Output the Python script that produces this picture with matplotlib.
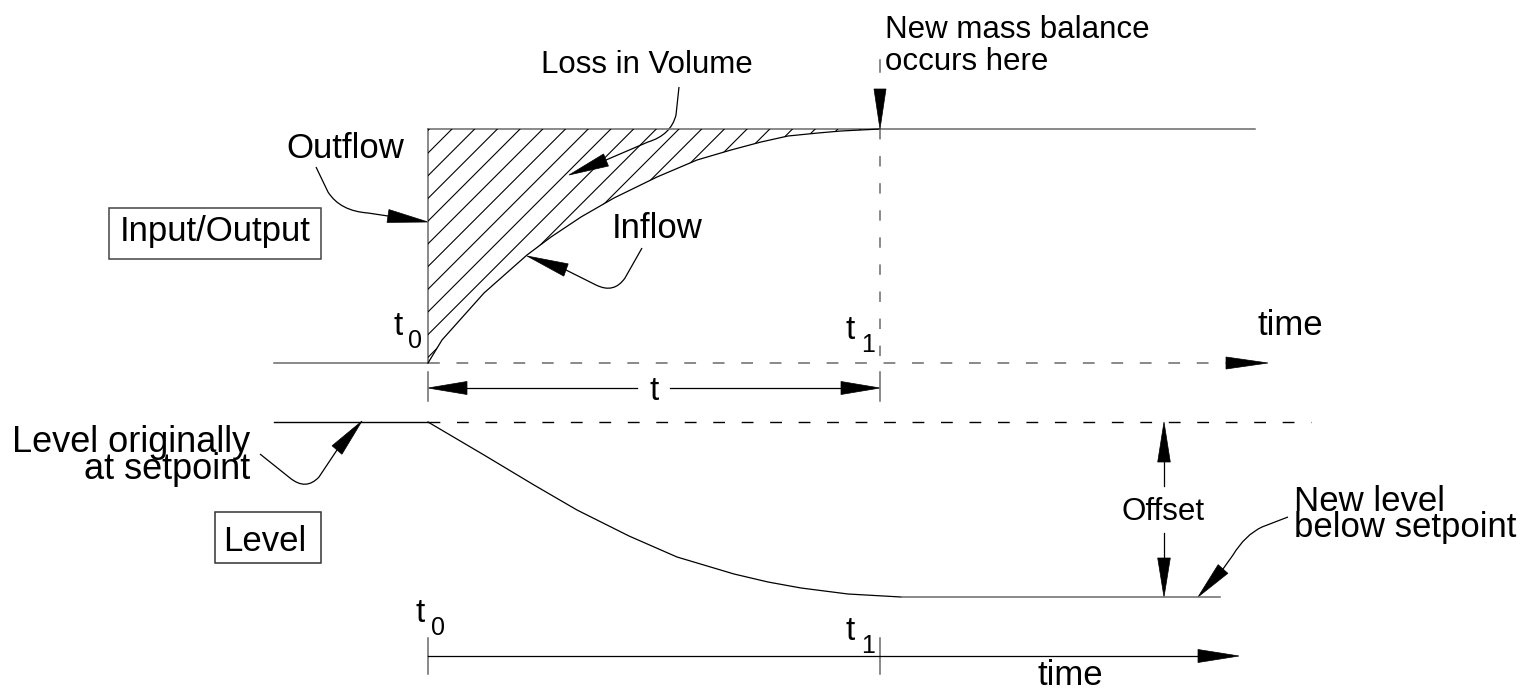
import numpy as np
import matplotlib
matplotlib.use('Agg')
import matplotlib.pyplot as plt
from matplotlib.patches import Polygon, Rectangle, PathPatch
from matplotlib.path import Path

plt.rcParams['font.family'] = ['Liberation Sans', 'DejaVu Sans']
plt.rcParams['lines.scale_dashes'] = False

# Diagram coordinates are in picture units (x right, y down).
# Inflow response after the step at t0 (rises to meet outflow at t1)
inflow_t = [428, 442, 484, 527, 551, 581, 614, 657, 697, 731, 761, 788, 818, 841, 880]
inflow_q = [363, 340, 293, 255, 237, 217, 198, 177, 160, 150, 142, 136, 133, 131, 129]

# Level response (falls from setpoint to a new, lower level)
level_t = [428, 484, 534, 577, 629, 677, 734, 768, 801, 848, 901]
level_h = [422, 455, 485, 510, 536, 557, 574, 582, 588, 594, 597]

T0, T1 = 428, 880
OUTFLOW_Y = 129
FLOW_AXIS_Y = 363
SETPOINT_Y = 422
NEW_LEVEL_Y = 597
TIME_AXIS_Y = 656

GRAY = '#6a6a6a'
DASH = (0, (8.5, 12))
FS = 25

fig = plt.figure(figsize=(15.35, 6.91), dpi=100)
ax = fig.add_axes([0, 0, 1, 1])
ax.set_xlim(0, 1535)
ax.set_ylim(691, 0)
ax.axis('off')


def head(tip, base, hw=6.5):
    tip = np.array(tip, float)
    base = np.array(base, float)
    d = tip - base
    d /= np.hypot(*d)
    p = np.array([-d[1], d[0]]) * hw
    ax.add_patch(Polygon([tip, base + p, base - p], closed=True,
                         fc='black', ec='black', lw=0.5))


def leader(start, pts):
    # pts: list of (code, point) after the start point
    verts = [start]
    codes = [Path.MOVETO]
    for code, pt in pts:
        verts.append(pt)
        codes.append(code)
    ax.add_patch(PathPatch(Path(verts, codes), fill=False, ec='black', lw=0.9))


def sub_label(x, y, main, sub, sub_dx=15, sub_dy=13):
    ax.text(x, y, main, fontsize=24, va='baseline', ha='left')
    ax.text(x + sub_dx, y + sub_dy, sub, fontsize=18, va='baseline', ha='left')


# ---------------- upper panel: input / output ----------------
ax.plot([274, T0], [FLOW_AXIS_Y, FLOW_AXIS_Y], color=GRAY, lw=1.1)
ax.plot([T0, 1226], [FLOW_AXIS_Y, FLOW_AXIS_Y], color=GRAY, lw=1.1, ls=DASH)
head((1268, FLOW_AXIS_Y), (1226, FLOW_AXIS_Y), 6)

ax.plot([T0, 1255], [OUTFLOW_Y, OUTFLOW_Y], color=GRAY, lw=1.1)
ax.plot([T0, T0], [OUTFLOW_Y, FLOW_AXIS_Y], color=GRAY, lw=1.1)
ax.plot(inflow_t, inflow_q, color='black', lw=0.9)
ax.plot([T1, T1], [OUTFLOW_Y, 366], color=GRAY, lw=1.1, ls=(0, (7.5, 12)))

# hatched loss-in-volume region
region = Polygon([(T0, OUTFLOW_Y)] + list(zip(inflow_t[::-1], inflow_q[::-1])),
                 closed=True, fc='none', ec='none')
ax.add_patch(region)
for c in np.arange(581 - 22.7, 1010, 22.7):
    ln, = ax.plot([c - 400, c], [400, 0], color='black', lw=0.8)
    ln.set_clip_path(region)

# new mass balance marker
ax.plot([T1, T1], [60, 72], color=GRAY, lw=1.1)
head((T1, OUTFLOW_Y), (T1, 89), 6)

# t dimension
for x in (T0, T1):
    ax.plot([x, x], [372, 401], color=GRAY, lw=1.1)
ax.plot([467, 637], [388, 388], color='black', lw=0.9)
ax.plot([670, 841], [388, 388], color='black', lw=0.9)
head((T0, 388), (467, 388), 6.5)
head((T1, 388), (841, 388), 6.5)
ax.text(654, 400, 't', fontsize=24, ha='center', va='baseline')

# labels
ax.add_patch(Rectangle((109, 208), 212, 51, fill=False, ec='#444444', lw=1.1))
ax.text(215, 241, 'Input/Output', fontsize=FS, ha='center', va='baseline')
ax.text(286, 158, 'Outflow', fontsize=FS, va='baseline')
ax.text(541, 73, 'Loss in Volume', fontsize=22.5, va='baseline')
ax.text(612, 238, 'Inflow', fontsize=FS, va='baseline')
ax.text(885, 70, 'New mass balance\noccurs here', fontsize=22.5,
        va='baseline', linespacing=1.1)
ax.text(1257, 335, 'time', fontsize=FS, va='baseline')
sub_label(393, 335, 't', '0')
sub_label(846, 339, 't', '1')

leader((316, 167), [(Path.LINETO, (328, 192)), (Path.CURVE3, (340, 211)),
                    (Path.CURVE3, (368, 213)), (Path.LINETO, (388, 216))])
head((428, 222), (388, 216))
leader((679, 87), [(Path.LINETO, (676, 115)), (Path.CURVE3, (671, 135)),
                   (Path.CURVE3, (648, 142)), (Path.LINETO, (606, 160))])
head((569, 175), (606, 160))
leader((642, 248), [(Path.LINETO, (625, 278)), (Path.CURVE3, (614, 294)),
                    (Path.CURVE3, (596, 285)), (Path.LINETO, (566, 270))])
head((527, 256), (566, 270))

# ---------------- lower panel: level ----------------
ax.plot([274, T0], [SETPOINT_Y, SETPOINT_Y], color='black', lw=1.0)
ax.plot([T0, 1311], [SETPOINT_Y, SETPOINT_Y], color='black', lw=1.0, ls=DASH)
ax.plot(level_t, level_h, color='black', lw=0.9)
ax.plot([level_t[-1], 1220], [NEW_LEVEL_Y, NEW_LEVEL_Y], color=GRAY, lw=1.1)

# offset dimension
ax.plot([1164, 1164], [462, 486], color='black', lw=0.9)
ax.plot([1164, 1164], [533, 558], color='black', lw=0.9)
head((1164, SETPOINT_Y), (1164, 462), 6.3)
head((1164, NEW_LEVEL_Y), (1164, 558), 6.3)
ax.text(1163, 520, 'Offset', fontsize=22.5, ha='center', va='baseline')

# time axis
for x in (T0, T1):
    ax.plot([x, x], [638, 674], color=GRAY, lw=1.1)
ax.plot([T0, 1198], [TIME_AXIS_Y, TIME_AXIS_Y], color='black', lw=0.9)
head((1239, TIME_AXIS_Y), (1198, TIME_AXIS_Y), 6.5)
ax.text(1038, 685, 'time', fontsize=FS, va='baseline')
sub_label(416, 622, 't', '0')
sub_label(846, 640, 't', '1')

# labels
ax.text(250, 479, 'Level originally\nat setpoint', fontsize=26, ha='right',
        multialignment='right', va='baseline', linespacing=0.72)
ax.add_patch(Rectangle((215, 512), 106, 51, fill=False, ec='#333333', lw=1.1))
ax.text(265, 551, 'Level', fontsize=FS, ha='center', va='baseline')
ax.text(1294, 537, 'New level\nbelow setpoint', fontsize=FS, va='baseline',
        linespacing=0.74)

leader((260, 454), [(Path.LINETO, (290, 478)), (Path.CURVE3, (306, 491)),
                    (Path.CURVE3, (319, 477)), (Path.LINETO, (337, 450))])
head((362, 421), (337, 450))
leader((1288, 517), [(Path.LINETO, (1262, 527)), (Path.CURVE3, (1245, 535)),
                     (Path.CURVE3, (1233, 555)), (Path.LINETO, (1223, 569))])
head((1198, 597), (1223, 569))

fig.savefig('out.png', dpi=100, facecolor='white')
